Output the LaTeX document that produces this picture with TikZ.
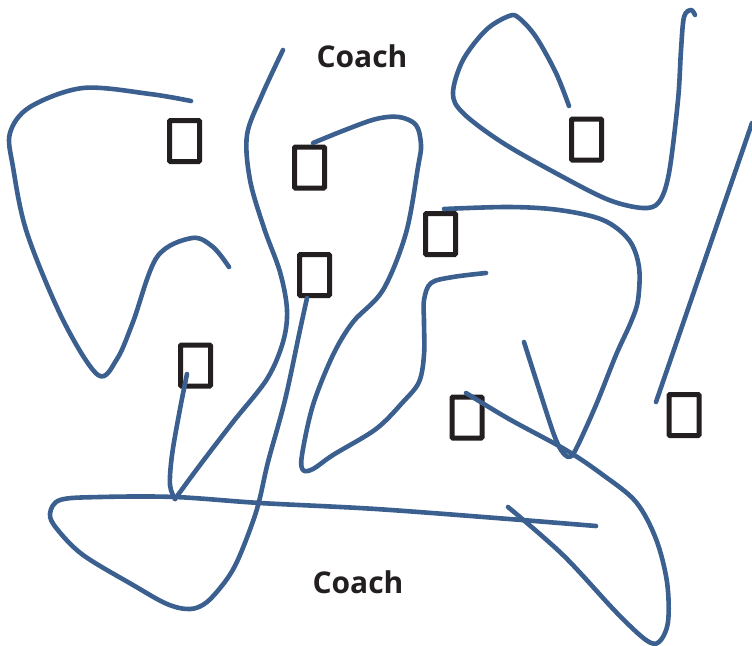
\documentclass[tikz,border=0pt]{standalone}
\usepackage{fontspec}
\setmainfont{Open Sans}
\definecolor{routeblue}{RGB}{59,96,143}
\definecolor{inkdark}{RGB}{35,31,32}
\begin{document}
\begin{tikzpicture}[x=1pt,y=-1pt,
  route/.style={draw=routeblue,line width=4.6pt,line cap=round,line join=round},
  player/.style={draw=inkdark,line width=5pt,rounded corners=1pt,minimum width=30pt,minimum height=41pt,inner sep=0pt},
  label/.style={text=inkdark,font=\bfseries\fontsize{30}{35}\selectfont,inner sep=0pt,anchor=base}]
\useasboundingbox (0,0) rectangle (752,645);

% players
\node[player] (p1) at (184.5,141) {};
\node[player] (p2) at (309.5,167.5) {};
\node[player] (p3) at (314.5,275) {};
\node[player] (p4) at (586.5,139.5) {};
\node[player] (p5) at (440.5,234) {};
\node[player] (p6) at (195.5,365.5) {};
\node[player] (p7) at (467,417.5) {};
\node[player] (p8) at (684,415) {};

% coach labels
\node[label] (coachtop) at (362,67) {Coach};
\node[label] (coachbottom) at (358,593) {Coach};

% run paths
\draw[route] plot[smooth,tension=0.55] coordinates {(191,101) (150,94) (83,88) (30,107) (10,133) (13,167) (27,233) (63,320) (98,375) (117,359) (133,322) (157,257) (192,238) (213,247) (229,267)};
\draw[route] plot[smooth,tension=0.55] coordinates {(283,50) (262,95) (247,135) (250,180) (264,228) (280,272) (287,310) (283,342) (267,379) (233,422) (200,465) (175,499)};
\draw[route] plot[smooth,tension=0.55] coordinates {(187,374) (180,409) (172,455) (170,485) (175,499)};
\draw[route] plot[smooth,tension=0.55] coordinates {(307,298) (300,330) (285,400) (268,462) (257,509) (240,555) (227,579) (207,602) (190,609) (167,604) (133,585) (83,555) (57,529) (50,514) (60,500) (100,497) (175,497) (260,503) (376,509) (509,519) (596,526)};
\draw[route] plot[smooth,tension=0.55] coordinates {(313,143) (345,130) (376,119) (399,117) (416,125) (421,145) (418,167) (406,233) (383,290) (353,322) (333,355) (313,405) (302,455) (303,470) (313,469) (333,455) (376,429) (403,402) (419,382) (424,355) (424,322) (424,300) (431,283) (453,277) (486,273)};
\draw[route] plot[smooth,tension=0.55] coordinates {(569,106) (556,73) (536,37) (519,18) (509,16) (486,30) (463,60) (453,93) (463,113) (503,143) (563,177) (609,200) (643,208) (659,202) (669,173) (678,100) (681,50) (684,17) (691,10) (695,15)};
\draw[route] (752,123) -- (656,402);
\draw[route] plot[smooth,tension=0.55] coordinates {(444,209) (509,207) (559,210) (603,220) (629,240) (639,267) (638,300) (631,322) (616,355) (596,405) (576,449) (569,457) (561,450) (553,432) (539,389) (524,342)};
\draw[route] plot[smooth,tension=0.55] coordinates {(466,393) (509,419) (566,450) (603,475) (636,502) (656,539) (667,582) (668,622) (659,642) (646,640) (616,612) (563,555) (508,507)};
\end{tikzpicture}
\end{document}
